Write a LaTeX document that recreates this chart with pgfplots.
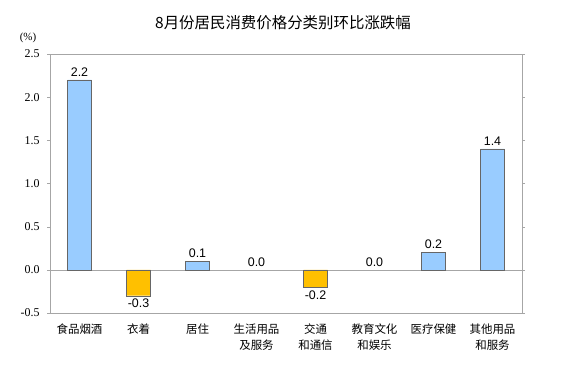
\documentclass[border=0pt]{standalone}
\usepackage{pgfplots}
\pgfplotsset{compat=1.18}
\usepackage{fontspec}
\setmainfont{Liberation Sans}
\newfontfamily\cjk{Noto Sans CJK SC}
\newfontfamily\serif{Liberation Serif}
\definecolor{barblue}{HTML}{99CCFF}
\definecolor{barorange}{HTML}{FFC000}
\definecolor{frame}{HTML}{A6A6A6}
\begin{document}
\begin{tikzpicture}[x=1bp,y=1bp]
\useasboundingbox (0,0) rectangle (576,372);
\begin{axis}[
  at={(50bp,59bp)}, anchor=south west,
  scale only axis, width=472bp, height=259bp,
  xmin=-0.5, xmax=7.5, ymin=-0.5, ymax=2.5,
  ytick={-0.5,0,0.5,1,1.5,2,2.5},
  yticklabel style={font=\serif\fontsize{12}{12}\selectfont, /pgf/number format/fixed, /pgf/number format/fixed zerofill, /pgf/number format/precision=1, xshift=-4bp},
  /pgf/number format/assume math mode=true,
  xtick={0,...,7},
  xticklabels={食品烟酒,衣着,居住,{生活用品\\及服务},{交通\\和通信},{教育文化\\和娱乐},医疗保健,{其他用品\\和服务}},
  xticklabel style={font=\cjk\fontsize{11.5}{16}\selectfont, align=center, anchor=north, yshift=-4bp},
  major x tick style={draw=none},
  y tick style={frame},
  tick align=outside, major tick length=3bp,
  axis line style={frame},
  ybar, bar width=24bp, bar shift=0pt,
  nodes near coords,
  every node near coord/.append style={font=\fontsize{12.5}{12.5}\selectfont, /pgf/number format/fixed, /pgf/number format/fixed zerofill, /pgf/number format/precision=1},
  clip=false,
  extra y ticks={0}, extra y tick labels={},
  extra y tick style={grid=major, major grid style={frame}, major tick length=0pt},
]
\addplot[fill=barblue, draw=black!60, nodes near coords align={vertical}] coordinates {(0,2.2) (2,0.1) (6,0.2) (7,1.4)};
\addplot[fill=barorange, draw=black!60, nodes near coords align={below}] coordinates {(1,-0.3) (4,-0.2)};
\addplot[draw=none, fill=none, nodes near coords align={vertical}] coordinates {(3,0.0) (5,0.0)};
\end{axis}
\node[font=\cjk\fontsize{15.5}{15.5}\selectfont] at (283,349) {8月份居民消费价格分类别环比涨跌幅};
\node[font=\serif\fontsize{11}{11}\selectfont] at (28,334) {(\%)};
\end{tikzpicture}
\end{document}
